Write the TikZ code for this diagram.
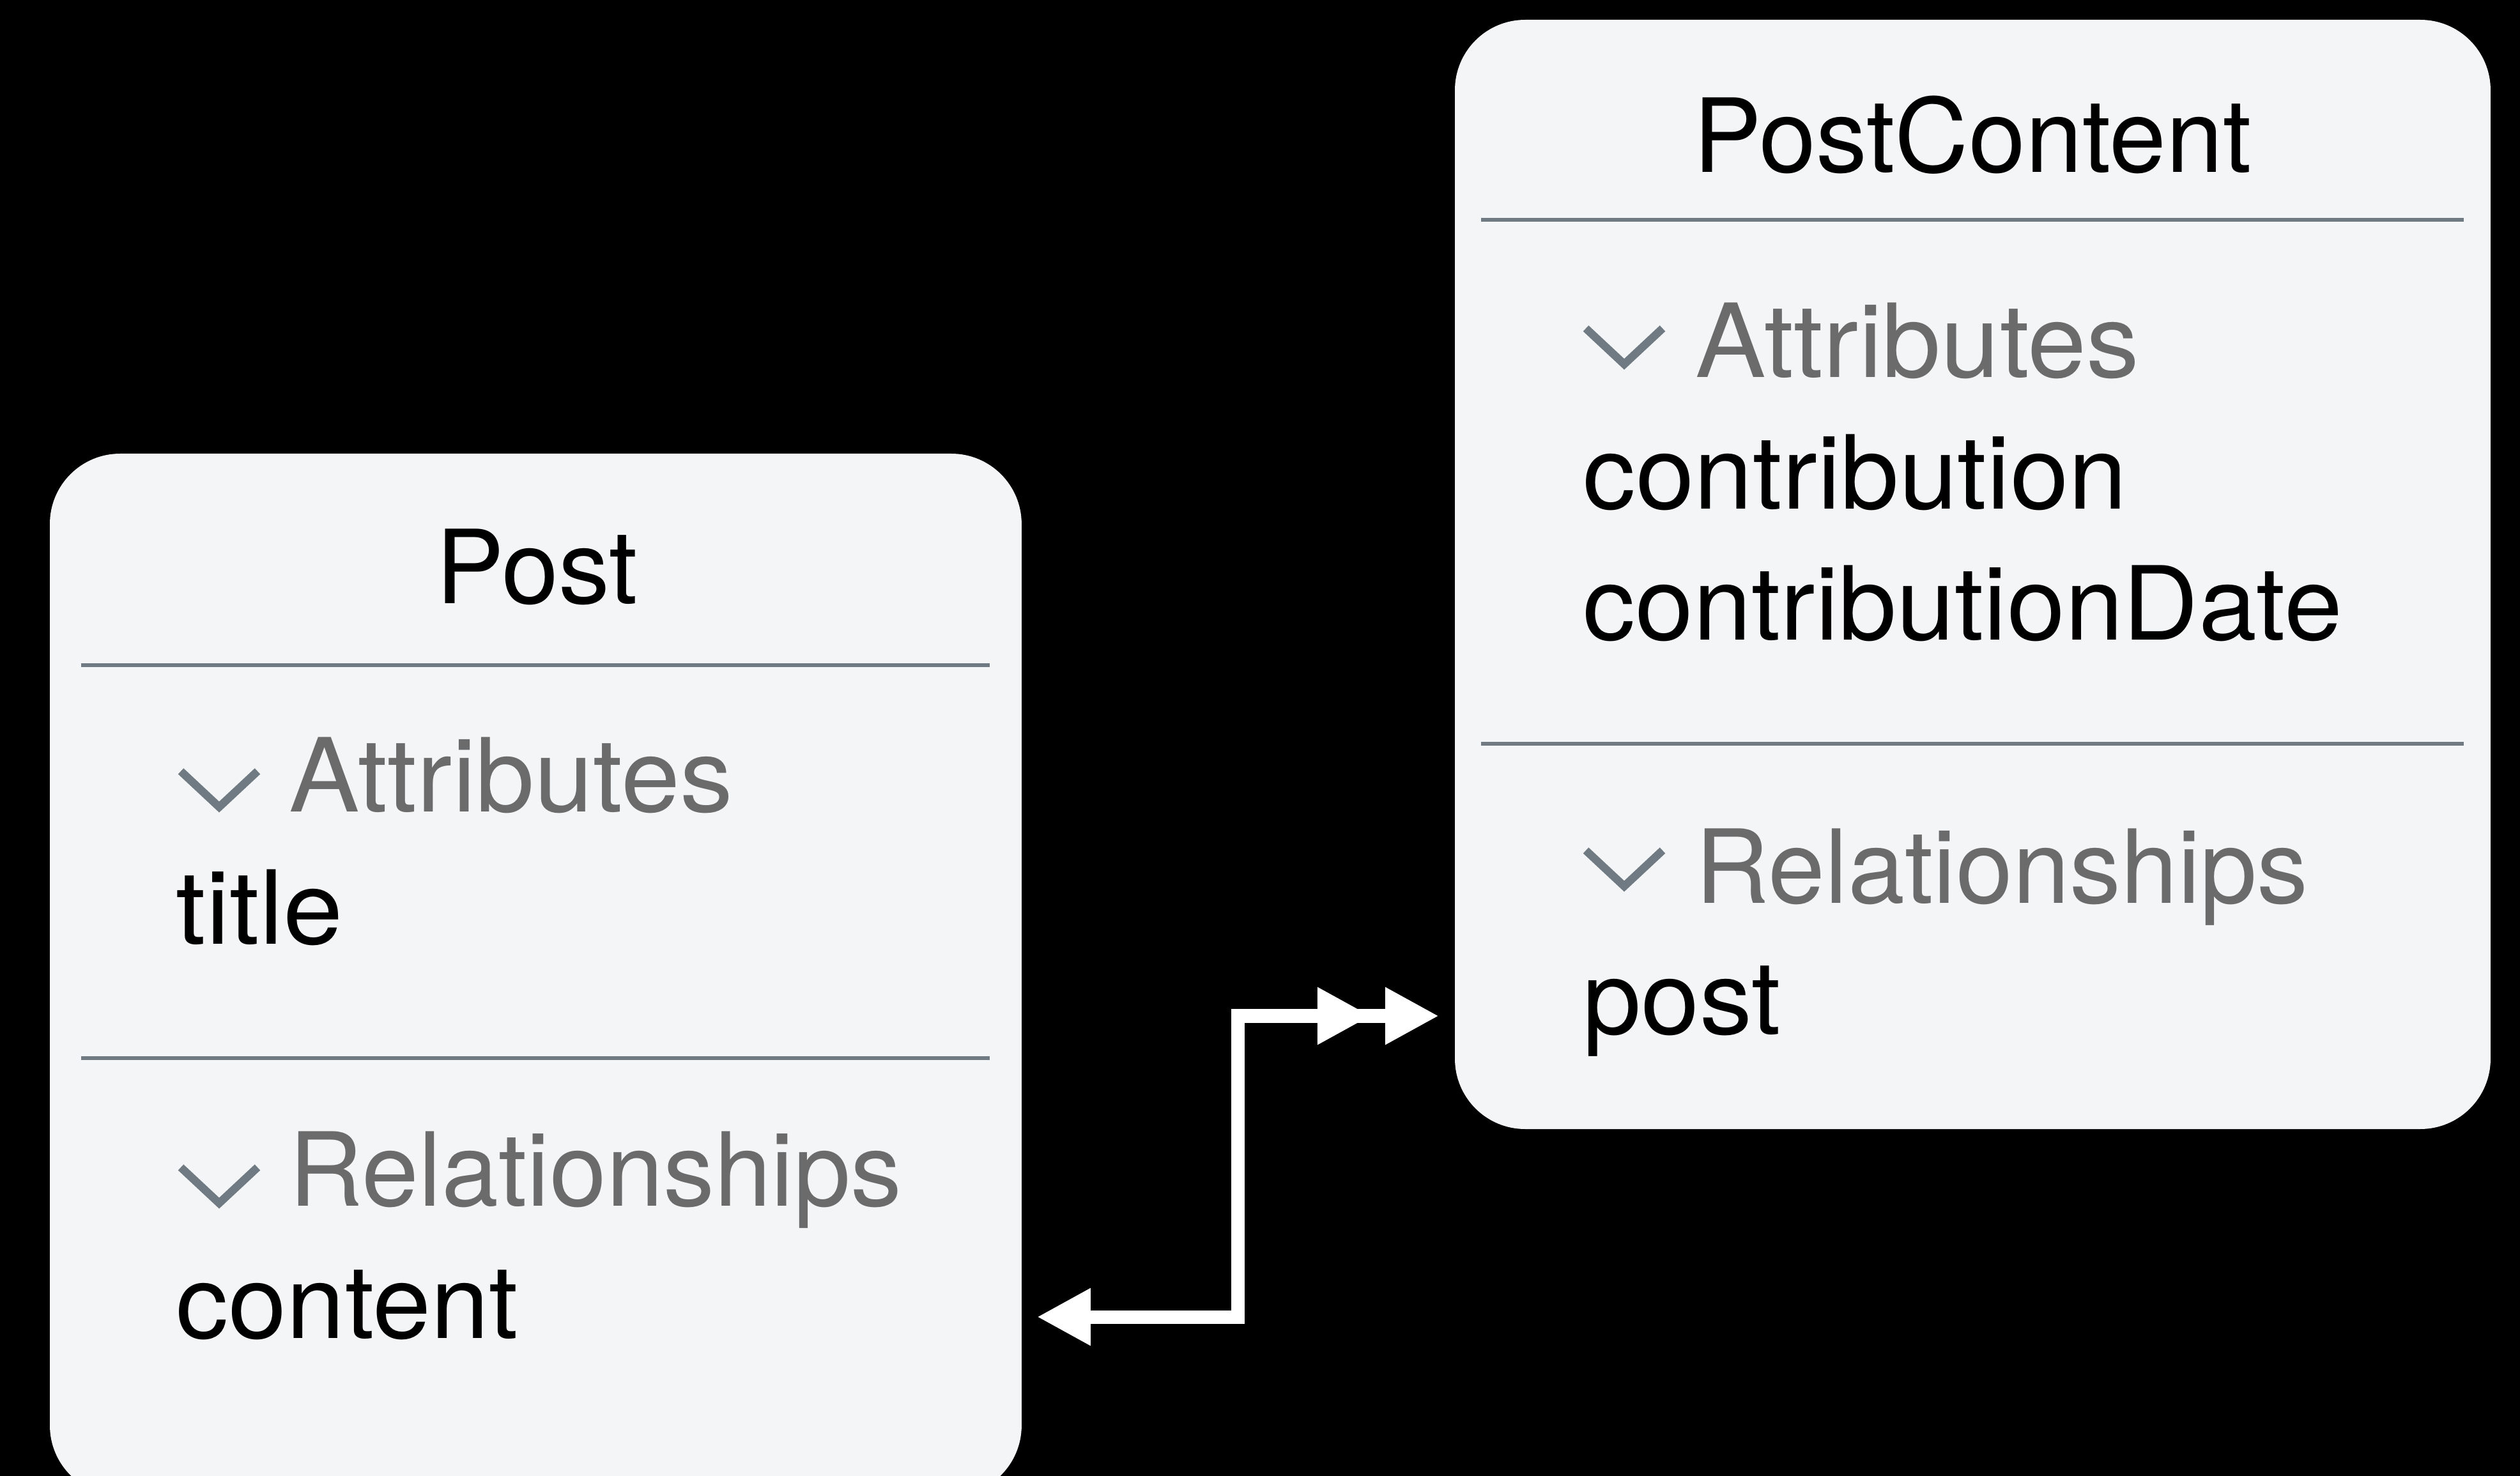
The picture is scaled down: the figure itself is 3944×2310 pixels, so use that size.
\documentclass[tikz,border=0pt]{standalone}
\usepackage{fontspec}
\setmainfont{TeX Gyre Heros}
\usetikzlibrary{arrows.meta,calc}
\definecolor{bgcol}{HTML}{000000}
\definecolor{boxfill}{HTML}{F4F5F7}
\definecolor{sepcol}{HTML}{6F7A82}
\definecolor{hdrcol}{HTML}{6B6B6B}
\newcommand{\efont}{\fontsize{45.5}{54}\selectfont}
\newcommand{\wide}[2]{\scalebox{#1}[1]{#2}}
\begin{document}
\begin{tikzpicture}[x=0.01cm,y=-0.01cm,
  entity/.style={fill=boxfill, rounded corners=1.1cm, inner sep=0pt, outer sep=0pt, anchor=north west, draw=none},
  sepline/.style={draw=sepcol, line width=0.055cm},
  chev/.style={draw=sepcol, line width=0.125cm, line join=miter},
  ttl/.style={anchor=base, inner sep=0pt, font=\efont, text=black},
  hdr/.style={anchor=base west, inner sep=0pt, font=\efont, text=hdrcol},
  item/.style={anchor=base west, inner sep=0pt, font=\efont, text=black},
  conn/.style={draw=white, line width=0.21cm, line join=miter},
  reltip/.tip={Triangle[length=0.84cm,width=0.84cm]},
  chevron/.pic={\draw[chev] (-60,-56) -- (0,0) -- (60,-56);}
]
\fill[bgcol] (0,0) rectangle (3944,2310);
\useasboundingbox (0,0) rectangle (3944,2310);
\clip (0,0) rectangle (3944,2310);

% Post entity
\node[entity, minimum width=15.20cm, minimum height=16.30cm] (post) at (78,710) {};
\node[ttl] (postT) at (840,945) {Post};
\draw[sepline] (127,1041) -- (1549,1041);
\pic at (343,1263) {chevron};
\node[hdr] (postAttr) at (452,1271) {\wide{1.035}{Attributes}};
\node[item] (postTitle) at (275,1477) {\wide{1.05}{title}};
\draw[sepline] (127,1656) -- (1549,1656);
\pic at (343,1883) {chevron};
\node[hdr] (postRel) at (452,1887) {Relationships};
\node[item] (postContent) at (275,2094) {\wide{1.025}{content}};

% PostContent entity
\node[entity, minimum width=16.20cm, minimum height=17.35cm] (pc) at (2277,31) {};
\node[ttl] (pcT) at (3087,270) {PostContent};
\draw[sepline] (2318,344) -- (3856,344);
\pic at (2542,570) {chevron};
\node[hdr] (pcAttr) at (2653,591) {\wide{1.035}{Attributes}};
\node[item] (pcContrib) at (2477,797) {\wide{1.03}{contribution}};
\node[item] (pcDate) at (2477,1002) {\wide{1.022}{contributionDate}};
\draw[sepline] (2318,1164) -- (3856,1164);
\pic at (2542,1387) {chevron};
\node[hdr] (pcRel) at (2653,1413) {Relationships};
\node[item] (pcPost) at (2477,1618) {\wide{1.025}{post}};

% relationship connector
\coordinate (relA) at ($(post.east |- 0,2061)+(24,0)$);
\coordinate (relB) at ($(pc.west |- 0,1590)+(-25,0)$);
\coordinate (relM) at (1937,0);
\draw[conn, {reltip}-{reltip}] (relA) -- (relM |- relA) -- (relM |- relB) -- (relB);
\draw[conn, -{reltip}, shorten >=1.06cm] (relM |- relB) -- (relB);
\end{tikzpicture}
\end{document}
